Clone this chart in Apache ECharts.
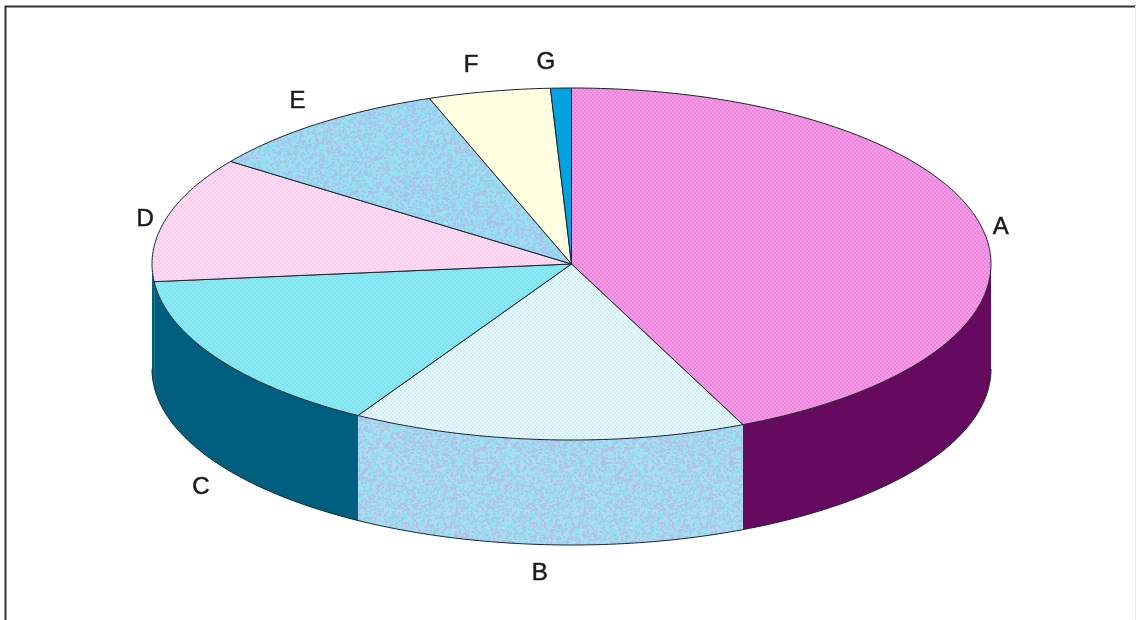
<!DOCTYPE html>
<html>
<head>
    <meta charset="utf-8">
    <title>3D pie</title>
    <script src="https://cdn.jsdelivr.net/npm/echarts@6/dist/echarts.min.js"></script>
    <style>
        html, body { margin: 0; padding: 0; background: #fff; }
        #container { width: 1136px; height: 620px; }
    </style>
</head>
<body>
    <div id="container"></div>
    <script type="text/javascript">
        // values, in percent
        var categories = ['A', 'B', 'C', 'D', 'E', 'F', 'G'];
        var shares = [43.3, 15.2, 14.9, 11.5, 9.6, 4.7, 0.8];

        // colours per slice
        var topBase = ['#ee84dc', '#cdeef4', '#7fe4f0', '#f8cdee', '#9edcf2', '#fffcd8', '#00a2e0'];
        var topDots = ['#f49ce6', '#ecf8fb', '#8ce8f2', '#fadcf4', '#a8a8e0', '#fffee8', '#00a2e0'];
        var sideColors = ['#650a5e', '#a8dcf0', '#005f7e', '#005f7e', '#005f7e', '#005f7e', '#005f7e'];

        // ellipse layout
        var cx = 571.5, cy = 264, rx = 419.5, ry = 176, depth = 105;
        var edgeColor = '#1c2430';
        // label shift from the rim point at the middle of each slice
        var labelShift = [[19, 0], [-8, 29], [-17, 24], [-21, 1], [-21, -22], [-18, -26], [-15, -26]];

        var total = shares.reduce(function (a, b) { return a + b; }, 0);

        function dotTile(base, dot) {
            var c = document.createElement('canvas');
            c.width = 4; c.height = 4;
            var g = c.getContext('2d');
            g.fillStyle = base;
            g.fillRect(0, 0, 4, 4);
            g.fillStyle = dot;
            g.fillRect(0, 0, 2, 2);
            g.fillRect(2, 2, 2, 2);
            return { image: c, repeat: 'repeat' };
        }

        // mottled scan texture for slice B wall and slice E
        function speckleTile(base, dot, other) {
            var c = document.createElement('canvas');
            c.width = 128; c.height = 128;
            var g = c.getContext('2d');
            g.fillStyle = base;
            g.fillRect(0, 0, 128, 128);
            var seed = 12345;
            function next() {
                seed = (Math.imul(seed, 1664525) + 1013904223) | 0;
                return (seed >>> 16) & 127;
            }
            for (var i = 0; i < 3600; i++) {
                var x = next(), y = next();
                g.fillStyle = i % 3 === 0 ? other : dot;
                g.fillRect(x, y, 2, 2);
            }
            return { image: c, repeat: 'repeat' };
        }

        var topFills = topBase.map(function (b, i) {
            if (i === 4) return speckleTile(b, '#a9c4ea', '#88e0f2');
            return dotTile(b, topDots[i]);
        });
        var sideFills = sideColors.slice();
        sideFills[1] = speckleTile('#a8dcf0', '#aec4ea', '#8ce2f0');

        function rim(deg, drop) {
            var t = deg * Math.PI / 180;
            return [cx + rx * Math.sin(t), cy - ry * Math.cos(t) + (drop || 0)];
        }

        function arc(from, to, drop) {
            var pts = [];
            var n = Math.max(2, Math.ceil(Math.abs(to - from)));
            for (var i = 0; i <= n; i++) {
                pts.push(rim(from + (to - from) * i / n, drop));
            }
            return pts;
        }

        function renderSlice(params, api) {
            var idx = params.dataIndex;
            var before = 0;
            for (var i = 0; i < idx; i++) before += shares[i];
            var start = before / total * 360;
            var end = start + api.value(0) / total * 360;
            var mid = (start + end) / 2;
            var children = [];

            // wall, only the front half of the ellipse shows
            var wallFrom = Math.max(start, 90), wallTo = Math.min(end, 270);
            if (wallTo > wallFrom) {
                children.push({
                    type: 'polygon',
                    shape: { points: arc(wallFrom, wallTo, 0).concat(arc(wallTo, wallFrom, depth)) },
                    style: { fill: sideFills[idx], stroke: null }
                });
                children.push({
                    type: 'polyline',
                    shape: { points: arc(wallFrom, wallTo, depth) },
                    style: { fill: null, stroke: edgeColor, lineWidth: 1 }
                });
            }

            // top face
            children.push({
                type: 'polygon',
                z2: 5,
                shape: { points: [[cx, cy]].concat(arc(start, end, 0)) },
                style: { fill: topFills[idx], stroke: edgeColor, lineWidth: 1 }
            });

            // label
            var anchor = rim(mid, Math.cos(mid * Math.PI / 180) < 0 ? depth : 0);
            children.push({
                type: 'text',
                z2: 10,
                x: anchor[0] + labelShift[idx][0],
                y: anchor[1] + labelShift[idx][1],
                style: {
                    text: categories[idx],
                    fill: '#1a1a1a',
                    stroke: '#1a1a1a',
                    lineWidth: 0.5,
                    font: '24px "Liberation Sans", Arial, sans-serif',
                    align: 'center',
                    verticalAlign: 'middle'
                }
            });

            return { type: 'group', children: children };
        }

        var myContainer = echarts.init(document.getElementById('container'));
        myContainer.setOption({
            backgroundColor: '#ffffff',
            animation: false,
            graphic: [
                // scanned frame, top and left are dark, right is barely there
                { type: 'polyline', shape: { points: [[5.5, 620], [5.5, 6.5], [1136, 6.5]] }, style: { fill: null, stroke: '#333', lineWidth: 2 } },
                { type: 'line', shape: { x1: 1135.5, y1: 6, x2: 1135.5, y2: 620 }, style: { stroke: '#eeeeee', lineWidth: 1 } }
            ],
            series: [{
                type: 'custom',
                coordinateSystem: 'none',
                renderItem: renderSlice,
                data: shares.map(function (v, i) { return { name: categories[i], value: [v] }; })
            }]
        });
    </script>
</body>
</html>
